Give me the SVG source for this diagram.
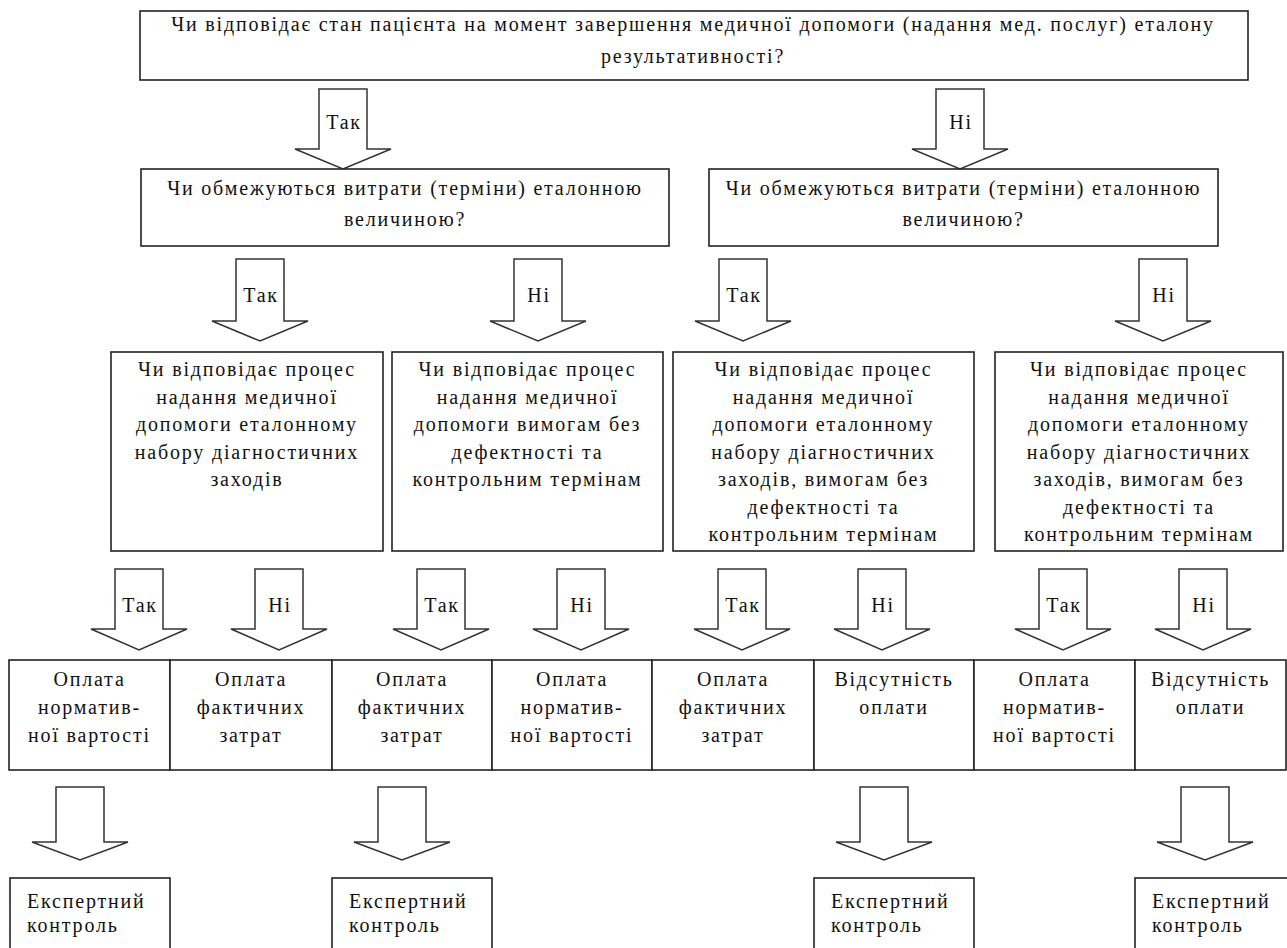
<svg xmlns="http://www.w3.org/2000/svg" width="1287" height="948" viewBox="0 0 1287 948">
<style>
.box{fill:#fff;stroke:#222;stroke-width:1.6}
.arr{fill:#fff;stroke:#333;stroke-width:1.5;stroke-linejoin:miter}
text{font-family:"Liberation Serif","Times New Roman",serif;font-size:20px;letter-spacing:1.8px;fill:#111}
.c{text-anchor:middle}
</style>
<rect width="1287" height="948" fill="#fff"/>
<g id="connectors">
<path class="arr" d="M319 89H367V149H391L343 169L295 149H319Z"/>
<path class="arr" d="M936 89H984V149H1008L960 169L912 149H936Z"/>
<path class="arr" d="M236 259H284V321H308L260 341L212 321H236Z"/>
<path class="arr" d="M514 259H562V321H586L538 341L490 321H514Z"/>
<path class="arr" d="M719 259H767V321H791L743 341L695 321H719Z"/>
<path class="arr" d="M1139 259H1187V321H1211L1163 341L1115 321H1139Z"/>
<path class="arr" d="M115 569H163V629H187L139 650L91 629H115Z"/>
<path class="arr" d="M255 569H303V629H327L279 650L231 629H255Z"/>
<path class="arr" d="M417 569H465V629H489L441 650L393 629H417Z"/>
<path class="arr" d="M557 569H605V629H629L581 650L533 629H557Z"/>
<path class="arr" d="M718 569H766V629H790L742 650L694 629H718Z"/>
<path class="arr" d="M858 569H906V629H930L882 650L834 629H858Z"/>
<path class="arr" d="M1039 569H1087V629H1111L1063 650L1015 629H1039Z"/>
<path class="arr" d="M1179 569H1227V629H1251L1203 650L1155 629H1179Z"/>
<path class="arr" d="M56 787H104V842H128L80 860L32 842H56Z"/>
<path class="arr" d="M378 787H426V842H450L402 860L354 842H378Z"/>
<path class="arr" d="M860 787H908V842H932L884 860L836 842H860Z"/>
<path class="arr" d="M1181 787H1229V842H1253L1205 860L1157 842H1181Z"/>
<text class="c" x="344" y="129">Так</text>
<text class="c" x="961" y="129">Ні</text>
<text class="c" x="261" y="302">Так</text>
<text class="c" x="539" y="302">Ні</text>
<text class="c" x="744" y="302">Так</text>
<text class="c" x="1164" y="302">Ні</text>
<text class="c" x="140" y="612">Так</text>
<text class="c" x="280" y="612">Ні</text>
<text class="c" x="442" y="612">Так</text>
<text class="c" x="582" y="612">Ні</text>
<text class="c" x="743" y="612">Так</text>
<text class="c" x="883" y="612">Ні</text>
<text class="c" x="1064" y="612">Так</text>
<text class="c" x="1204" y="612">Ні</text>
</g>
<g id="q1">
<rect class="box" x="140" y="11" width="1108" height="69"/>
<text class="c" x="693" y="31">Чи відповідає стан пацієнта на момент завершення медичної допомоги (надання мед. послуг) еталону</text>
<text class="c" x="693" y="63">результативності?</text>
</g>
<g id="q2a">
<rect class="box" x="141" y="169" width="528" height="77"/>
<text class="c" x="405" y="195">Чи обмежуються витрати (терміни) еталонною</text>
<text class="c" x="405" y="226">величиною?</text>
</g>
<g id="q2b">
<rect class="box" x="709" y="169" width="509" height="77"/>
<text class="c" x="963.5" y="195">Чи обмежуються витрати (терміни) еталонною</text>
<text class="c" x="963.5" y="226">величиною?</text>
</g>
<g id="q3a">
<rect class="box" x="111" y="352" width="272" height="199"/>
<text class="c" x="247" y="376">Чи відповідає процес</text>
<text class="c" x="247" y="403.5">надання медичної</text>
<text class="c" x="247" y="431">допомоги еталонному</text>
<text class="c" x="247" y="458.5">набору діагностичних</text>
<text class="c" x="247" y="486">заходів</text>
</g>
<g id="q3b">
<rect class="box" x="392" y="352" width="271" height="199"/>
<text class="c" x="527.5" y="376">Чи відповідає процес</text>
<text class="c" x="527.5" y="403.5">надання медичної</text>
<text class="c" x="527.5" y="431">допомоги вимогам без</text>
<text class="c" x="527.5" y="458.5">дефектності та</text>
<text class="c" x="527.5" y="486">контрольним термінам</text>
</g>
<g id="q3c">
<rect class="box" x="673" y="352" width="301" height="199"/>
<text class="c" x="823.5" y="376">Чи відповідає процес</text>
<text class="c" x="823.5" y="403.5">надання медичної</text>
<text class="c" x="823.5" y="431">допомоги еталонному</text>
<text class="c" x="823.5" y="458.5">набору діагностичних</text>
<text class="c" x="823.5" y="486">заходів, вимогам без</text>
<text class="c" x="823.5" y="513.5">дефектності та</text>
<text class="c" x="823.5" y="541">контрольним термінам</text>
</g>
<g id="q3d">
<rect class="box" x="995" y="352" width="288" height="199"/>
<text class="c" x="1139" y="376">Чи відповідає процес</text>
<text class="c" x="1139" y="403.5">надання медичної</text>
<text class="c" x="1139" y="431">допомоги еталонному</text>
<text class="c" x="1139" y="458.5">набору діагностичних</text>
<text class="c" x="1139" y="486">заходів, вимогам без</text>
<text class="c" x="1139" y="513.5">дефектності та</text>
<text class="c" x="1139" y="541">контрольним термінам</text>
</g>
<g id="r1">
<rect class="box" x="9" y="660" width="161" height="110"/>
<text class="c" x="89.5" y="686">Оплата</text>
<text class="c" x="89.5" y="714">норматив-</text>
<text class="c" x="89.5" y="742">ної вартості</text>
</g>
<g id="r2">
<rect class="box" x="170" y="660" width="162" height="110"/>
<text class="c" x="251" y="686">Оплата</text>
<text class="c" x="251" y="714">фактичних</text>
<text class="c" x="251" y="742">затрат</text>
</g>
<g id="r3">
<rect class="box" x="332" y="660" width="160" height="110"/>
<text class="c" x="412" y="686">Оплата</text>
<text class="c" x="412" y="714">фактичних</text>
<text class="c" x="412" y="742">затрат</text>
</g>
<g id="r4">
<rect class="box" x="492" y="660" width="160" height="110"/>
<text class="c" x="572" y="686">Оплата</text>
<text class="c" x="572" y="714">норматив-</text>
<text class="c" x="572" y="742">ної вартості</text>
</g>
<g id="r5">
<rect class="box" x="652" y="660" width="162" height="110"/>
<text class="c" x="733" y="686">Оплата</text>
<text class="c" x="733" y="714">фактичних</text>
<text class="c" x="733" y="742">затрат</text>
</g>
<g id="r6">
<rect class="box" x="814" y="660" width="160" height="110"/>
<text class="c" x="894" y="686">Відсутність</text>
<text class="c" x="894" y="714">оплати</text>
</g>
<g id="r7">
<rect class="box" x="974" y="660" width="161" height="110"/>
<text class="c" x="1054.5" y="686">Оплата</text>
<text class="c" x="1054.5" y="714">норматив-</text>
<text class="c" x="1054.5" y="742">ної вартості</text>
</g>
<g id="r8">
<rect class="box" x="1135" y="660" width="151" height="110"/>
<text class="c" x="1210.5" y="686">Відсутність</text>
<text class="c" x="1210.5" y="714">оплати</text>
</g>
<g id="e1">
<rect class="box" x="10" y="878" width="160" height="90"/>
<text x="27" y="908">Експертний</text>
<text x="27" y="932">контроль</text>
</g>
<g id="e2">
<rect class="box" x="332" y="878" width="160" height="90"/>
<text x="349" y="908">Експертний</text>
<text x="349" y="932">контроль</text>
</g>
<g id="e3">
<rect class="box" x="814" y="878" width="160" height="90"/>
<text x="831" y="908">Експертний</text>
<text x="831" y="932">контроль</text>
</g>
<g id="e4">
<rect class="box" x="1135" y="878" width="160" height="90"/>
<text x="1152" y="908">Експертний</text>
<text x="1152" y="932">контроль</text>
</g>
</svg>
